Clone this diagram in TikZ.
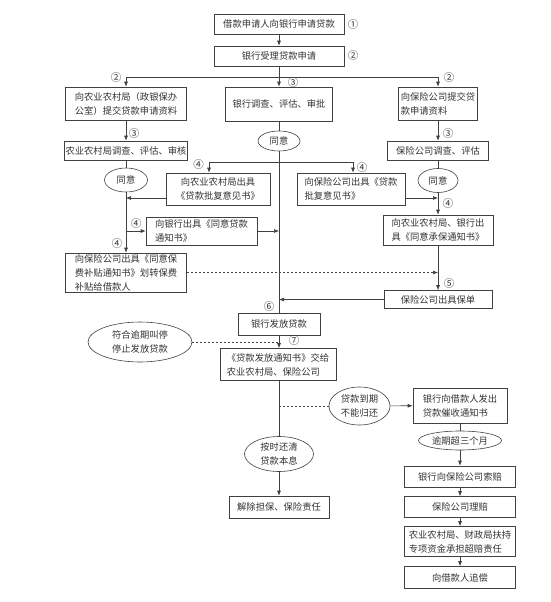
\documentclass[tikz,border=0pt]{standalone}
\usepackage{fontspec}
\setmainfont{Noto Sans CJK SC}
\usetikzlibrary{arrows.meta,shapes.geometric}

\begin{document}
\begin{tikzpicture}[
  x=1pt,y=-1pt,
  font=\fontsize{9.3}{14}\selectfont,
  every node/.style={text=black!80},
  box/.style={draw=black!75,line width=0.6pt,inner sep=1pt,align=center},
  lbox/.style={box,align=left},
  oval/.style={ellipse,draw=black!75,line width=0.6pt,inner sep=0pt,align=center},
  num/.style={inner sep=0pt,font=\fontsize{10.5}{10.5}\selectfont},
  line/.style={draw=black!75,line width=0.6pt},
  arr/.style={line,-{Latex[length=5pt,width=4pt]}},
  dashline/.style={dash pattern=on 2pt off 2pt},
]
  \useasboundingbox (0,0) rectangle (551,602);

  \node[box,minimum width=130pt,minimum height=20pt] (apply) at (279,24) {借款申请人向银行申请贷款};
  \node[box,minimum width=130pt,minimum height=20pt] (accept) at (279,56) {银行受理贷款申请};
  \node[num] (n1) at (353,25) {①};
  \node[num] (n2) at (353,56) {②};
  \coordinate (fork) at (279,77);
  \node[num] (n2l) at (116,78) {②};
  \node[num] (n3m) at (293,83) {③};
  \node[num] (n2r) at (449,78) {②};

  \node[box,minimum width=121pt,minimum height=33pt] (agriapp) at (126,103.5) {向农业农村局（政银保办\\公室）提交贷款申请资料};
  \node[box,minimum width=107pt,minimum height=34pt] (bankcheck) at (279,104) {银行调查、评估、审批};
  \node[lbox,minimum width=79pt,minimum height=33pt] (insapp) at (438,103.5) {向保险公司提交贷\\款申请资料};
  \node[num] (n3l) at (134,134) {③};
  \node[num] (n3r) at (448,133.5) {③};
  \node[box,minimum width=122pt,minimum height=19pt] (agricheck) at (126,150.5) {农业农村局调查、评估、审核};
  \node[box,minimum width=101pt,minimum height=19pt] (inscheck) at (438,150.5) {保险公司调查、评估};
  \node[oval,minimum width=42pt,minimum height=20pt] (okbank) at (279,141) {同意};
  \node[oval,minimum width=43pt,minimum height=24pt] (okagri) at (126,180) {同意};
  \node[oval,minimum width=40pt,minimum height=24pt] (okins) at (438,180.5) {同意};

  \coordinate (forkl) at (209,162);
  \coordinate (forkr) at (353,162);
  \node[num] (n4a) at (198.5,165) {④};
  \node[num] (n4b) at (362,168) {④};
  \node[box,minimum width=104pt,minimum height=32pt] (agrireply) at (218,189) {向农业农村局出具\\《贷款批复意见书》};
  \node[lbox,minimum width=108pt,minimum height=32pt] (insreply) at (351,189) {向保险公司出具《贷款\\批复意见书》};
  \node[num] (n4c) at (136,223.5) {④};
  \node[num] (n4d) at (448,203.5) {④};
  \node[lbox,minimum width=111pt,minimum height=28pt] (bankletter) at (201.5,231) {向银行出具《同意贷款\\通知书》};
  \node[lbox,minimum width=110pt,minimum height=30pt] (insnotice) at (438,230) {向农业农村局、银行出\\具《同意承保通知书》};
  \node[num] (n4e) at (117,244) {④};
  \node[lbox,minimum width=121pt,minimum height=39pt] (subsidy) at (126,272.5) {向保险公司出具《同意保\\费补贴通知书》划转保费\\补贴给借款人};
  \node[num] (n5) at (449,284) {⑤};
  \node[box,minimum width=108pt,minimum height=18pt] (policy) at (438,299.5) {保险公司出具保单};

  \node[num] (n6) at (269,306.5) {⑥};
  \node[box,minimum width=82pt,minimum height=22pt] (loan) at (279,324) {银行发放贷款};
  \node[num] (n7) at (294,340.5) {⑦};
  \node[oval,minimum width=104pt,minimum height=40pt] (stop) at (140,342) {符合逾期叫停\\停止发放贷款};
  \node[lbox,minimum width=116pt,minimum height=32pt] (notice) at (278,364.5) {《贷款发放通知书》交给\\农业农村局、保险公司};
  \node[oval,minimum width=61pt,minimum height=38pt] (overdue) at (359.5,406) {贷款到期\\不能归还};
  \node[lbox,minimum width=94pt,minimum height=35pt] (demand) at (460,405.5) {银行向借款人发出\\贷款催收通知书};
  \node[oval,minimum width=83pt,minimum height=19pt] (three) at (460,440.5) {逾期超三个月};
  \node[oval,minimum width=69pt,minimum height=35pt] (ontime) at (279,454) {按时还清\\贷款本息};
  \node[box,minimum width=100pt,minimum height=22pt] (discharge) at (279,507) {解除担保、保险责任};
  \node[box,minimum width=111pt,minimum height=21pt] (claim) at (460,476.5) {银行向保险公司索赔};
  \node[box,minimum width=111pt,minimum height=21pt] (settle) at (460,507) {保险公司理赔};
  \node[lbox,minimum width=111pt,minimum height=30pt] (fund) at (460,541.5) {农业农村局、财政局扶持\\专项资金承担超赔责任};
  \node[box,minimum width=111pt,minimum height=22pt] (recover) at (460,577.5) {向借款人追偿};

  \draw[arr] (apply) -- (accept);
  \draw[arr] (accept) -- (bankcheck);
  \draw[arr] (fork) -| (agriapp);
  \draw[arr] (fork) -| (insapp);
  \draw[arr] (agriapp) -- (agricheck);
  \draw[arr] (insapp) -- (inscheck);
  \draw[line] (bankcheck) -- (okbank);
  \draw[line] (agricheck) -- (okagri);
  \draw[line] (inscheck) -- (okins);
  \draw[line] (okbank) -- (loan);
  \draw[line] (forkl) -- (forkr);
  \draw[arr] (forkl) -- (forkl |- agrireply.north);
  \draw[arr] (forkr) -- (forkr |- insreply.north);
  \draw[arr] ([yshift=-9pt]agrireply.west) -- ([yshift=-9pt]agrireply.west -| okagri);
  \draw[arr] ([yshift=-9pt]insreply.east) -- ([yshift=-9pt]insreply.east -| okins);
  \draw[arr] (okins) -- (insnotice);
  \draw[arr] (okagri) -- (subsidy);
  \draw[arr] (bankletter.west -| okagri) -- (bankletter);
  \draw[arr] (bankletter) -- (bankletter.east -| okbank);
  \draw[arr,dashline] (subsidy) -- (subsidy.east -| okins);
  \draw[arr] (insnotice) -- (policy);
  \draw[arr] (policy) -- (policy.west -| loan);
  \draw[arr] (loan) -- (loan |- notice.north);
  \draw[line,dashline] (stop) -- (stop.east -| loan);
  \draw[line] (notice.south -| loan) -- (ontime);
  \draw[line,dashline] (overdue.west -| loan) -- (overdue);
  \draw[arr] (overdue) -- (demand);
  \draw[line] (demand) -- (three);
  \draw[arr] (ontime) -- (discharge);
  \draw[arr] (three) -- (claim);
  \draw[arr] (claim) -- (settle);
  \draw[arr] (settle) -- (fund);
  \draw[arr] (fund) -- (recover);
\end{tikzpicture}
\end{document}
